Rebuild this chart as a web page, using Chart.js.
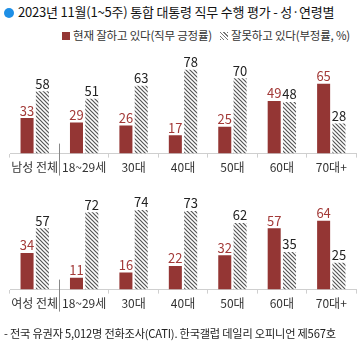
<!DOCTYPE html>
<html>
<head>
<meta charset="utf-8">
<script src="https://cdn.jsdelivr.net/npm/chart.js@4.4.0/dist/chart.umd.min.js"></script>
<style>
  body { margin: 0; background: #fff; font-family: "Noto Sans CJK KR", "Noto Sans", sans-serif; }
  .page { position: relative; width: 361px; height: 345px; overflow: hidden; }
  .title { position: absolute; left: 4px; top: 2px; font-size: 13px; color: #111; white-space: nowrap; letter-spacing: -0.2px; }
  .title .dot { display: inline-block; width: 10px; height: 10px; border-radius: 50%; background: #1e8fe6; margin-right: 4px; vertical-align: -1px; }
  .legend { position: absolute; right: 11px; top: 27px; font-size: 11.5px; color: #333; white-space: nowrap; letter-spacing: -0.2px; }
  .legend .sw { display: inline-block; width: 8px; height: 8px; margin-right: 3px; vertical-align: 0px; }
  .legend .pos { background: #943634; }
  .legend .neg { background: repeating-linear-gradient(45deg, #777 0 1px, #fff 1px 2.5px); margin-left: 8px; }
  .footer { position: absolute; left: 4px; top: 325px; font-size: 11.2px; color: #222; white-space: nowrap; letter-spacing: -0.2px; }
  .panel { position: absolute; left: 0; width: 361px; }
</style>
</head>
<body>
<div class="page">
  <div class="title"><span class="dot"></span>2023년 11월(1~5주) 통합 대통령 직무 수행 평가 - 성·연령별</div>
  <div class="legend"><span class="sw pos"></span>현재 잘하고 있다(직무 긍정률)<span class="sw neg"></span>잘못하고 있다(부정률, %)</div>
  <div class="panel" style="top:40px;height:142px"><canvas id="male"></canvas></div>
  <div class="panel" style="top:176px;height:142px"><canvas id="female"></canvas></div>
  <div class="footer">- 전국 유권자 5,012명 전화조사(CATI). 한국갤럽 데일리 오피니언 제567호</div>
</div>
<script>
const ageGroups = ['전체', '18~29세', '30대', '40대', '50대', '60대', '70대+'];
const malePositive = [33, 29, 26, 17, 25, 49, 65];
const maleNegative = [58, 51, 63, 78, 70, 48, 28];
const femalePositive = [34, 11, 16, 22, 32, 57, 64];
const femaleNegative = [57, 72, 74, 73, 62, 35, 25];

const RED = '#943634';
const RED_TEXT = '#a33a38';

// diagonal hatch fill for the negative bars
function hatch() {
  const c = document.createElement('canvas');
  c.width = 4; c.height = 4;
  const g = c.getContext('2d');
  g.fillStyle = '#fff';
  g.fillRect(0, 0, 4, 4);
  g.strokeStyle = '#555';
  g.lineWidth = 1.2;
  g.beginPath();
  g.moveTo(-1, -1); g.lineTo(5, 5);
  g.moveTo(-1, 3); g.lineTo(1, 5);
  g.moveTo(3, -1); g.lineTo(5, 1);
  g.stroke();
  return g.createPattern(c, 'repeat');
}

// value labels over each bar
const barValues = {
  id: 'barValues',
  afterDatasetsDraw(chart) {
    const ctx = chart.ctx;
    ctx.save();
    ctx.font = '13px "Noto Sans CJK KR", sans-serif';
    ctx.textAlign = 'center';
    ctx.textBaseline = 'bottom';
    chart.data.datasets.forEach((ds, di) => {
      ctx.fillStyle = di === 0 ? RED_TEXT : '#222';
      chart.getDatasetMeta(di).data.forEach((bar, i) => {
        ctx.fillText(ds.data[i], bar.x, bar.y - 1);
      });
    });
    ctx.restore();
  }
};

// divider between the total column and the age groups
const divider = {
  id: 'divider',
  afterDraw(chart) {
    const x = chart.scales.x;
    const px = (x.getPixelForValue(0) + x.getPixelForValue(1)) / 2;
    const base = chart.chartArea.bottom;
    const ctx = chart.ctx;
    ctx.save();
    ctx.strokeStyle = '#888';
    ctx.lineWidth = 1;
    ctx.beginPath();
    ctx.moveTo(Math.round(px) + 0.5, base - 10);
    ctx.lineTo(Math.round(px) + 0.5, base + 22);
    ctx.stroke();
    ctx.restore();
  }
};

function makeChart(id, sex, pos, neg) {
  const labels = ageGroups.map((g, i) => i === 0 ? sex + ' ' + g : g);
  return new Chart(document.getElementById(id), {
    type: 'bar',
    data: {
      labels,
      datasets: [
        { data: pos, backgroundColor: RED, categoryPercentage: 0.62, barPercentage: 0.85 },
        { data: neg, backgroundColor: hatch(), categoryPercentage: 0.62, barPercentage: 0.85 }
      ]
    },
    options: {
      responsive: true, maintainAspectRatio: false,
      animation: false,
      layout: { padding: { left: 10, right: 5, top: 6, bottom: 4 } },
      plugins: { legend: { display: false }, tooltip: { enabled: false } },
      scales: {
        x: {
          grid: { offset: true, drawOnChartArea: false, tickLength: 4, color: '#cfcfcf' },
          border: { color: '#cfcfcf' },
          ticks: {
            color: '#333', font: { size: 12, family: '"Noto Sans CJK KR", sans-serif' },
            padding: 3, maxRotation: 0, minRotation: 0, autoSkip: false
          }
        },
        y: { display: false, min: 0, max: 100 }
      }
    },
    plugins: [barValues, divider]
  });
}

makeChart('male', '남성', malePositive, maleNegative);
makeChart('female', '여성', femalePositive, femaleNegative);
</script>
</body>
</html>
